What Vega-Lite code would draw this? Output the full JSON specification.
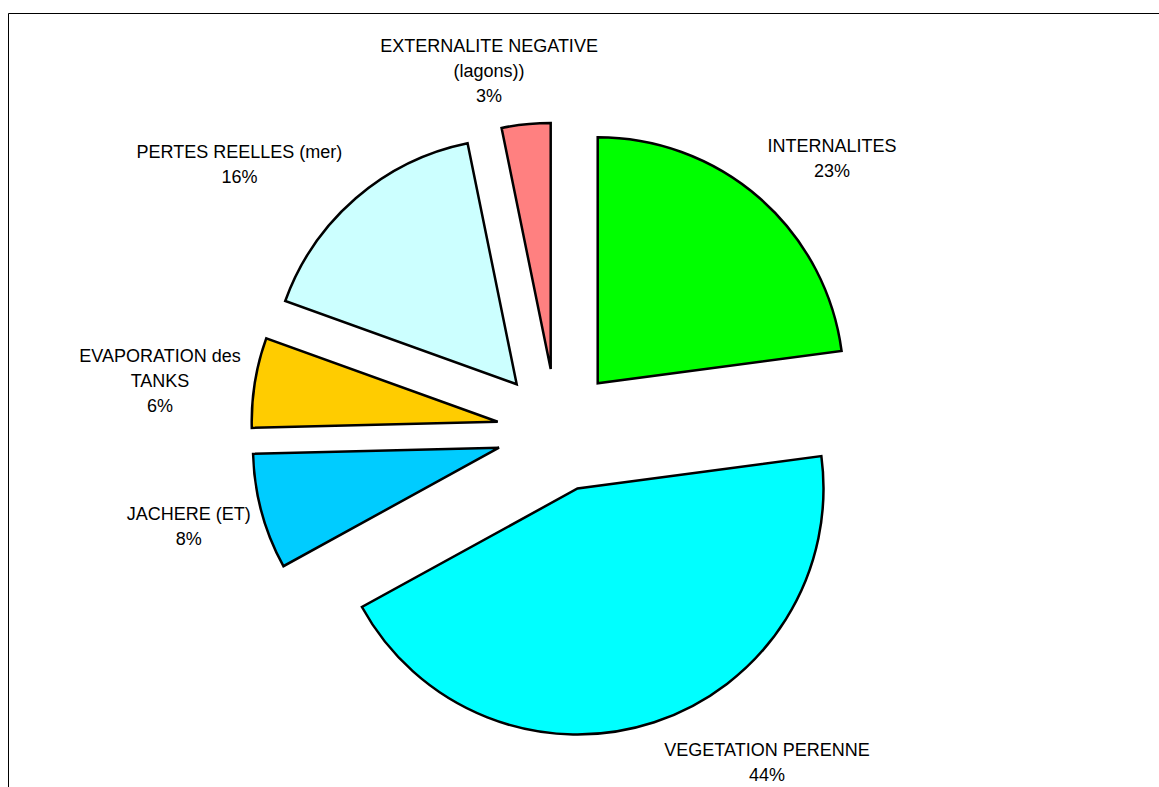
{
  "$schema": "https://vega.github.io/schema/vega-lite/v6.json",
  "autosize": "none",
  "width": 1151,
  "height": 774,
  "padding": {"left": 8, "top": 13, "right": 0, "bottom": 0},
  "background": "#ffffff",
  "data": {"values": [
    {"name": "INTERNALITES", "label": "INTERNALITES\n23%", "value": 22.9},
    {"name": "VEGETATION PERENNE", "label": "VEGETATION PERENNE\n44%", "value": 44.1},
    {"name": "JACHERE (ET)", "label": "JACHERE (ET)\n8%", "value": 7.6},
    {"name": "EVAPORATION des TANKS", "label": "EVAPORATION des\nTANKS\n6%", "value": 5.9},
    {"name": "PERTES REELLES (mer)", "label": "PERTES REELLES (mer)\n16%", "value": 16.3},
    {"name": "EXTERNALITE NEGATIVE (lagons))", "label": "EXTERNALITE NEGATIVE\n(lagons))\n3%", "value": 3.2}
  ]},
  "transform": [{"stack": "value", "groupby": [], "as": ["v0", "v1"]}],
  "layer": [
    {
      "data": {"values": [{"frame": 1}]},
      "transform": [],
      "mark": {"type": "rect", "fill": null, "stroke": "#000000", "strokeWidth": 1},
      "encoding": {"x": {"value": 0.5}, "x2": {"value": {"expr": "width + 20"}}, "y": {"value": 0.5}, "y2": {"value": {"expr": "height + 20"}}}
    },
    {
      "transform": [{"filter": {"field": "name", "equal": "INTERNALITES"}}],
      "layer": [
        {"mark": {"type": "arc", "radius": 246, "stroke": "#000000", "strokeWidth": 2.5, "xOffset": 14.2, "yOffset": -16.7},
         "encoding": {"theta": {"field": "v0", "type": "quantitative", "scale": {"domain": [0, 100]}}, "theta2": {"field": "v1"},
           "color": {"field": "name", "type": "nominal", "legend": null, "scale": {"domain": ["INTERNALITES", "VEGETATION PERENNE", "JACHERE (ET)", "EVAPORATION des TANKS", "PERTES REELLES (mer)", "EXTERNALITE NEGATIVE (lagons))"], "range": ["#00FF00", "#00FFFF", "#00CCFF", "#FFCC00", "#CCFFFF", "#FF8080"]}}}},
        {"mark": {"type": "text", "radius": 332.6, "thetaOffset": 0.7818, "xOffset": 14.2, "yOffset": -16.7, "font": "Liberation Sans", "fontSize": 18, "lineBreak": "\n", "lineHeight": 25, "align": "center", "baseline": "middle", "color": "#000000"},
         "encoding": {"theta": {"field": "v0", "type": "quantitative", "stack": null}, "text": {"field": "label"}}}
      ]
    },
    {
      "transform": [{"filter": {"field": "name", "equal": "VEGETATION PERENNE"}}],
      "layer": [
        {"mark": {"type": "arc", "radius": 246, "stroke": "#000000", "strokeWidth": 2.5, "xOffset": -6, "yOffset": 88.5},
         "encoding": {"theta": {"field": "v0", "type": "quantitative"}, "theta2": {"field": "v1"}, "color": {"field": "name", "type": "nominal", "legend": null}}},
        {"mark": {"type": "text", "radius": 323.5, "thetaOffset": 1.0769, "xOffset": -6, "yOffset": 88.5, "font": "Liberation Sans", "fontSize": 18, "lineBreak": "\n", "lineHeight": 25, "align": "center", "baseline": "middle", "color": "#000000"},
         "encoding": {"theta": {"field": "v0", "type": "quantitative", "stack": null}, "text": {"field": "label"}}}
      ]
    },
    {
      "transform": [{"filter": {"field": "name", "equal": "JACHERE (ET)"}}],
      "layer": [
        {"mark": {"type": "arc", "radius": 246, "stroke": "#000000", "strokeWidth": 2.5, "xOffset": -84.5, "yOffset": 47.7},
         "encoding": {"theta": {"field": "v0", "type": "quantitative"}, "theta2": {"field": "v1"}, "color": {"field": "name", "type": "nominal", "legend": null}}},
        {"mark": {"type": "text", "radius": 317.4, "thetaOffset": 0.29, "xOffset": -84.5, "yOffset": 47.7, "font": "Liberation Sans", "fontSize": 18, "lineBreak": "\n", "lineHeight": 25, "align": "center", "baseline": "middle", "color": "#000000"},
         "encoding": {"theta": {"field": "v0", "type": "quantitative", "stack": null}, "text": {"field": "label"}}}
      ]
    },
    {
      "transform": [{"filter": {"field": "name", "equal": "EVAPORATION des TANKS"}}],
      "layer": [
        {"mark": {"type": "arc", "radius": 246, "stroke": "#000000", "strokeWidth": 2.5, "xOffset": -85.8, "yOffset": 21.7},
         "encoding": {"theta": {"field": "v0", "type": "quantitative"}, "theta2": {"field": "v1"}, "color": {"field": "name", "type": "nominal", "legend": null}}},
        {"mark": {"type": "text", "radius": 343.9, "thetaOffset": 0.2158, "xOffset": -85.8, "yOffset": 21.7, "font": "Liberation Sans", "fontSize": 18, "lineBreak": "\n", "lineHeight": 25, "align": "center", "baseline": "middle", "color": "#000000"},
         "encoding": {"theta": {"field": "v0", "type": "quantitative", "stack": null}, "text": {"field": "label"}}}
      ]
    },
    {
      "transform": [{"filter": {"field": "name", "equal": "PERTES REELLES (mer)"}}],
      "layer": [
        {"mark": {"type": "arc", "radius": 246, "stroke": "#000000", "strokeWidth": 2.5, "xOffset": -66.8, "yOffset": -15.7},
         "encoding": {"theta": {"field": "v0", "type": "quantitative"}, "theta2": {"field": "v1"}, "color": {"field": "name", "type": "nominal", "legend": null}}},
        {"mark": {"type": "text", "radius": 360.9, "thetaOffset": 0.3492, "xOffset": -66.8, "yOffset": -15.7, "font": "Liberation Sans", "fontSize": 18, "lineBreak": "\n", "lineHeight": 25, "align": "center", "baseline": "middle", "color": "#000000"},
         "encoding": {"theta": {"field": "v0", "type": "quantitative", "stack": null}, "text": {"field": "label"}}}
      ]
    },
    {
      "transform": [{"filter": {"field": "name", "equal": "EXTERNALITE NEGATIVE (lagons))"}}],
      "layer": [
        {"mark": {"type": "arc", "radius": 246, "stroke": "#000000", "strokeWidth": 2.5, "xOffset": -32.8, "yOffset": -31},
         "encoding": {"theta": {"field": "v0", "type": "quantitative"}, "theta2": {"field": "v1"}, "color": {"field": "name", "type": "nominal", "legend": null}}},
        {"mark": {"type": "text", "radius": 328.3, "thetaOffset": 0.0121, "xOffset": -32.8, "yOffset": -31, "font": "Liberation Sans", "fontSize": 18, "lineBreak": "\n", "lineHeight": 25, "align": "center", "baseline": "middle", "color": "#000000"},
         "encoding": {"theta": {"field": "v0", "type": "quantitative", "stack": null}, "text": {"field": "label"}}}
      ]
    }
  ]
}
